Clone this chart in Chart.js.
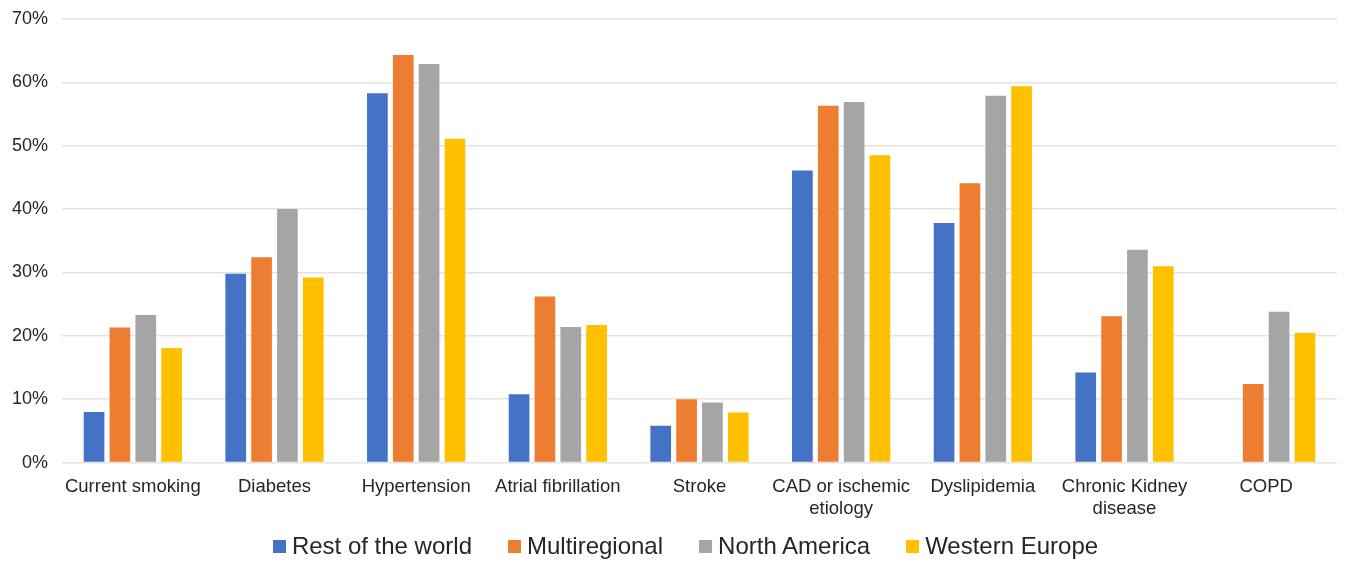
<!DOCTYPE html>
<html>
<head>
<meta charset="utf-8">
<script src="https://cdn.jsdelivr.net/npm/chart.js@4/dist/chart.umd.min.js"></script>
<style>
  html, body { margin: 0; padding: 0; background: #fff; }
  #page { position: relative; width: 1345px; height: 562px; overflow: hidden; }
  #wrap { position: absolute; left: 0; top: 0; width: 1345px; height: 533px; }
  #legend {
    position: absolute; left: 0; top: 531px; width: 1345px; height: 30px;
    display: flex; justify-content: center; align-items: center;
    padding-left: 26px; box-sizing: border-box;
    font-family: 'Liberation Sans', Arial, Helvetica, sans-serif;
    font-size: 24px; color: #262626;
  }
  .item { display: flex; align-items: center; margin: 0 18px; white-space: nowrap; }
  .swatch { width: 13px; height: 13px; margin-right: 6px; margin-top: 1px; }
</style>
</head>
<body>
<div id="page">
  <div id="wrap"><canvas id="c"></canvas></div>
  <div id="legend"></div>
</div>
<script>
// Risk factor prevalence by region (percent of patients)
const categories = [
  "Current smoking",
  "Diabetes",
  "Hypertension",
  "Atrial fibrillation",
  "Stroke",
  ["CAD or ischemic", "etiology"],
  "Dyslipidemia",
  ["Chronic Kidney", "disease"],
  "COPD"
];
const restOfWorld   = [8.0, 29.8, 58.3, 10.8, 5.8, 46.1, 37.8, 14.2, null];
const multiregional = [21.3, 32.4, 64.3, 26.2, 10.0, 56.3, 44.1, 23.1, 12.4];
const northAmerica  = [23.3, 40.0, 62.9, 21.4, 9.5, 56.9, 57.9, 33.6, 23.8];
const westernEurope = [18.1, 29.2, 51.1, 21.7, 7.9, 48.5, 59.4, 31.0, 20.5];
const yTicks = [0, 10, 20, 30, 40, 50, 60, 70];

const colors = ["#4472C4", "#ED7D31", "#A5A5A5", "#FFC000"];
const seriesNames = ["Rest of the world", "Multiregional", "North America", "Western Europe"];
const seriesData = [restOfWorld, multiregional, northAmerica, westernEurope];

const datasets = seriesNames.map((name, i) => ({
  label: name,
  data: seriesData[i],
  backgroundColor: colors[i],
  borderWidth: 0,
  barPercentage: 0.8,
  categoryPercentage: 0.73
}));

Chart.defaults.font.family = "'Liberation Sans', Arial, Helvetica, sans-serif";
Chart.defaults.color = "#262626";

const chart = new Chart(document.getElementById("c"), {
  type: "bar",
  data: { labels: categories, datasets },
  options: {
    responsive: true,
    maintainAspectRatio: false,
    animation: false,
    layout: { padding: { left: 12, right: 8, top: 19, bottom: 0 } },
    plugins: {
      tooltip: { enabled: false },
      legend: { display: false }
    },
    scales: {
      x: {
        grid: { display: false, drawTicks: false },
        border: { display: false },
        // outer category labels may overhang the plot edges
        afterFit: (s) => { s.paddingLeft = 0; s.paddingRight = 0; },
        ticks: {
          font: { size: 18.5 },
          color: "#262626",
          maxRotation: 0,
          autoSkip: false,
          padding: 13
        }
      },
      y: {
        min: 0,
        max: 70,
        afterBuildTicks: (axis) => { axis.ticks = yTicks.map(v => ({ value: v })); },
        afterFit: (s) => { s.width = 50; s.paddingTop = 0; s.paddingBottom = 0; },
        grid: { color: "#e3e3e3", lineWidth: 1.5, drawTicks: false },
        border: { display: false },
        ticks: {
          font: { size: 18 },
          color: "#262626",
          padding: 14,
          callback: (v) => v + "%"
        }
      }
    }
  }
});

// Legend built from the chart's own datasets
const legendEl = document.getElementById("legend");
chart.data.datasets.forEach((ds) => {
  const item = document.createElement("div");
  item.className = "item";
  const sw = document.createElement("span");
  sw.className = "swatch";
  sw.style.background = ds.backgroundColor;
  const label = document.createElement("span");
  label.textContent = ds.label;
  item.appendChild(sw);
  item.appendChild(label);
  legendEl.appendChild(item);
});
</script>
</body>
</html>
